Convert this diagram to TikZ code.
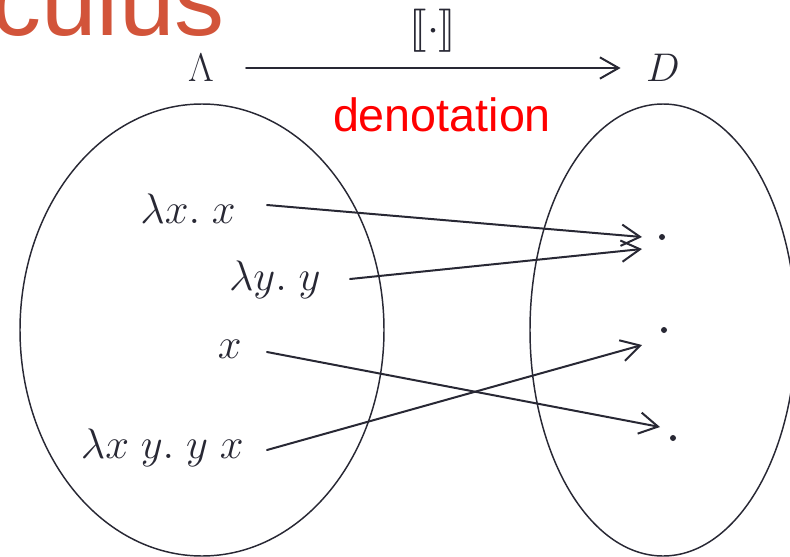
\RequirePackage{fix-cm}
\documentclass[tikz,border=0pt]{standalone}
\usepackage{fontspec}
\usepackage{amsmath}
\usepackage{stmaryrd}
\newfontfamily\arialfont{Liberation Sans}
\usetikzlibrary{arrows.meta,shapes.geometric}
\definecolor{ink}{RGB}{40,40,52}
\definecolor{titlecol}{RGB}{210,84,58}
\definecolor{denred}{RGB}{255,0,0}
\tikzset{
  term/.style={inner sep=0pt, text=ink, font=\fontsize{32}{38}\selectfont},
  setell/.style={draw=ink, line width=1.1pt, ellipse, inner sep=0pt},
  mapsto/.style={draw=ink, line width=1.5pt, line cap=round,
    -{Straight Barb[length=14pt,width=16pt,line width=1.5pt]}},
  elem/.style={circle, fill=ink, inner sep=0pt, minimum size=4.5pt},
}
\begin{document}
\begin{tikzpicture}[x=0.75pt,y=-0.75pt]
\useasboundingbox (0,0) rectangle (790,557);
\clip (0,0) rectangle (790,557);
% title fragment
\node[anchor=base east, inner sep=0pt, text=titlecol,
      font=\arialfont\fontsize{75}{80}\selectfont] (title) at (225,35) {culus};
% sets
\node[setell, minimum width=273pt, minimum height=339pt] (L) at (202,330) {};
\node[setell, minimum width=199.5pt, minimum height=339pt] (R) at (663,330) {};
% top mapping
\node[term, font=\fontsize{30}{36}\selectfont] (lam) at (201,68) {$\Lambda$};
\node[term, font=\fontsize{30}{36}\selectfont] (dom) at (663,68) {$D$};
\draw[mapsto, shorten <=24pt, shorten >=19pt] (lam) -- (dom);
\node[term, font=\fontsize{24.88}{30}\selectfont, scale=1.3] (sem) at (433,31) {$\llbracket\cdot\rrbracket$};
\node[anchor=base, inner sep=0pt, text=denred,
      font=\arialfont\fontsize{35}{40}\selectfont] (den) at (442,131) {denotation};
% terms
\node[term, anchor=base east] (t1) at (236,223) {$\lambda x.\; x$};
\node[term, anchor=base east] (t2) at (321,290) {$\lambda y.\; y$};
\node[term, anchor=base east] (t3) at (242,358) {$x$};
\node[term, anchor=base east] (t4) at (244,458) {$\lambda x\; y.\; y\; x$};
% elements of D
\node[elem] (d1) at (662,237) {};
\node[elem] (d2) at (664,330) {};
\node[elem] (d3) at (673,438) {};
% mappings
\draw[mapsto] ([shift={(31,-18)}]t1.base east) -- ([shift={(-20,0)}]d1.center);
\draw[mapsto] ([shift={(29,-11)}]t2.base east) -- ([shift={(-20,12)}]d1.center);
\draw[mapsto] ([shift={(25,-6)}]t3.base east) -- ([shift={(-13,-11)}]d3.center);
\draw[mapsto] ([shift={(23,-8)}]t4.base east) -- ([shift={(-22,15)}]d2.center);
\end{tikzpicture}
\end{document}
